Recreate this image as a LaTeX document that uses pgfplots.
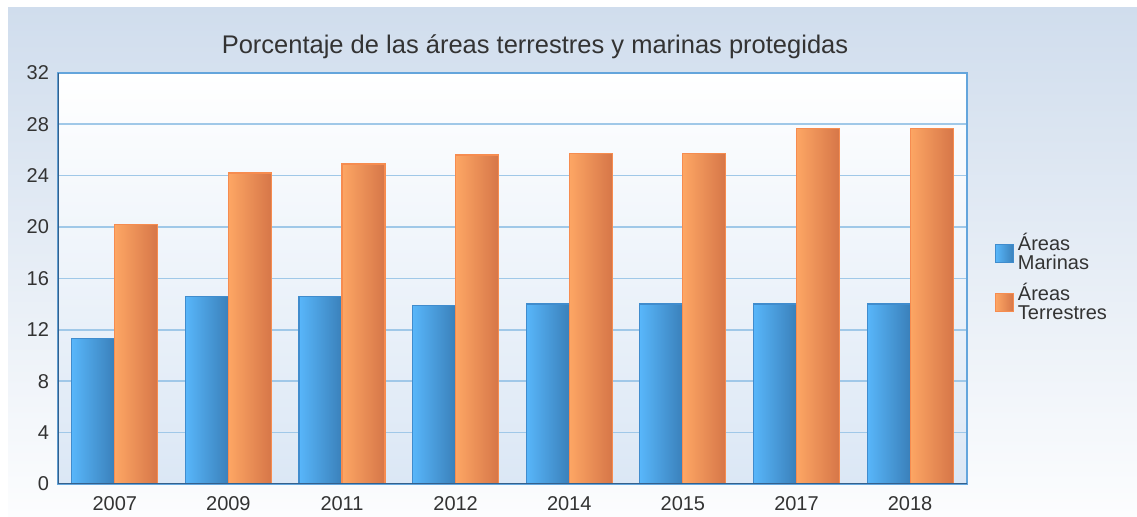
\documentclass[border=0pt]{standalone}
\usepackage{pgfplots}
\pgfplotsset{compat=1.18}
\usepackage{fontspec}
\setmainfont{Liberation Sans}
\definecolor{txt}{RGB}{51,51,51}
\definecolor{bgtop}{RGB}{208,221,237}
\definecolor{bgbot}{RGB}{252,253,254}
\definecolor{patop}{RGB}{255,255,255}
\definecolor{pabot}{RGB}{219,231,245}
\definecolor{gridc}{RGB}{160,200,232}
\definecolor{axdark}{RGB}{52,96,140}
\definecolor{axlight}{RGB}{100,165,220}
\definecolor{bluel}{RGB}{88,182,250}
\definecolor{bluer}{RGB}{58,128,186}
\definecolor{blued}{RGB}{64,140,205}
\definecolor{orl}{RGB}{253,166,100}
\definecolor{orr}{RGB}{214,118,72}
\definecolor{ord}{RGB}{246,140,80}
\begin{document}
\begin{tikzpicture}[x=0.5pt,y=0.5pt]
\path[use as bounding box] (0,0) rectangle (1137,516);
\fill[white] (0,0) rectangle (1137,516);
\shade[top color=bgtop, bottom color=bgbot] (8,0) rectangle (1137,509);
\node[text=txt, font=\fontsize{12.75}{14}\selectfont, anchor=center] at (535,469) {Porcentaje de las áreas terrestres y marinas protegidas};
\begin{axis}[
  at={(51,25)}, anchor=south west,
  scale only axis, width=454.5pt, height=205.5pt,
  xmin=-0.5, xmax=7.5, ymin=0, ymax=32,
  ytick={0,4,...,32},
  xtick={0,...,7},
  xticklabels={2007,2009,2011,2012,2014,2015,2017,2018},
  major tick length=0pt,
  ymajorgrids, grid style={gridc, line width=0.8pt},
  axis line style={axlight, line width=0.8pt},
  axis background/.style={shade, top color=patop, bottom color=pabot},
  tick label style={text=txt, font=\fontsize{10}{12}\selectfont},
  yticklabel style={xshift=-1pt},
  xticklabel style={yshift=-3pt},
  /pgf/number format/assume math mode=true,
  bar width=21.5pt,
  legend style={at={(1.024,0.63)}, anchor=north west, draw=none, fill=none,
    font=\fontsize{10}{9.5}\selectfont, text=txt, row sep=1pt,
    cells={align=left}},
  legend cell align=left,
]
\pgfplotsset{
  mar/.style={ybar, bar shift=-10.75pt, left color=bluel, right color=bluer, draw=blued, line width=0.6pt, forget plot},
  ter/.style={ybar, bar shift=10.75pt, left color=orl, right color=orr, draw=ord, line width=0.6pt, forget plot},
}
\addplot[mar] coordinates {(0,11.3)};
\addplot[mar] coordinates {(1,14.6)};
\addplot[mar] coordinates {(2,14.6)};
\addplot[mar] coordinates {(3,13.9)};
\addplot[mar] coordinates {(4,14.0)};
\addplot[mar] coordinates {(5,14.0)};
\addplot[mar] coordinates {(6,14.0)};
\addplot[mar] coordinates {(7,14.0)};
\addplot[ter] coordinates {(0,20.2)};
\addplot[ter] coordinates {(1,24.2)};
\addplot[ter] coordinates {(2,24.9)};
\addplot[ter] coordinates {(3,25.6)};
\addplot[ter] coordinates {(4,25.75)};
\addplot[ter] coordinates {(5,25.75)};
\addplot[ter] coordinates {(6,27.7)};
\addplot[ter] coordinates {(7,27.7)};
\draw[axdark, line width=1.2pt] (rel axis cs:0,1) -- (rel axis cs:0,0) -- (rel axis cs:1,0);
\addlegendimage{legend image code/.code={\fill[left color=bluel, right color=bluer, draw=blued] (0pt,-4.5pt) rectangle (9pt,4.5pt);}}
\addlegendentry{Áreas\\Marinas}
\addlegendimage{legend image code/.code={\fill[left color=orl, right color=orr, draw=ord] (0pt,-4.5pt) rectangle (9pt,4.5pt);}}
\addlegendentry{Áreas\\Terrestres}
\end{axis}
\end{tikzpicture}
\end{document}
